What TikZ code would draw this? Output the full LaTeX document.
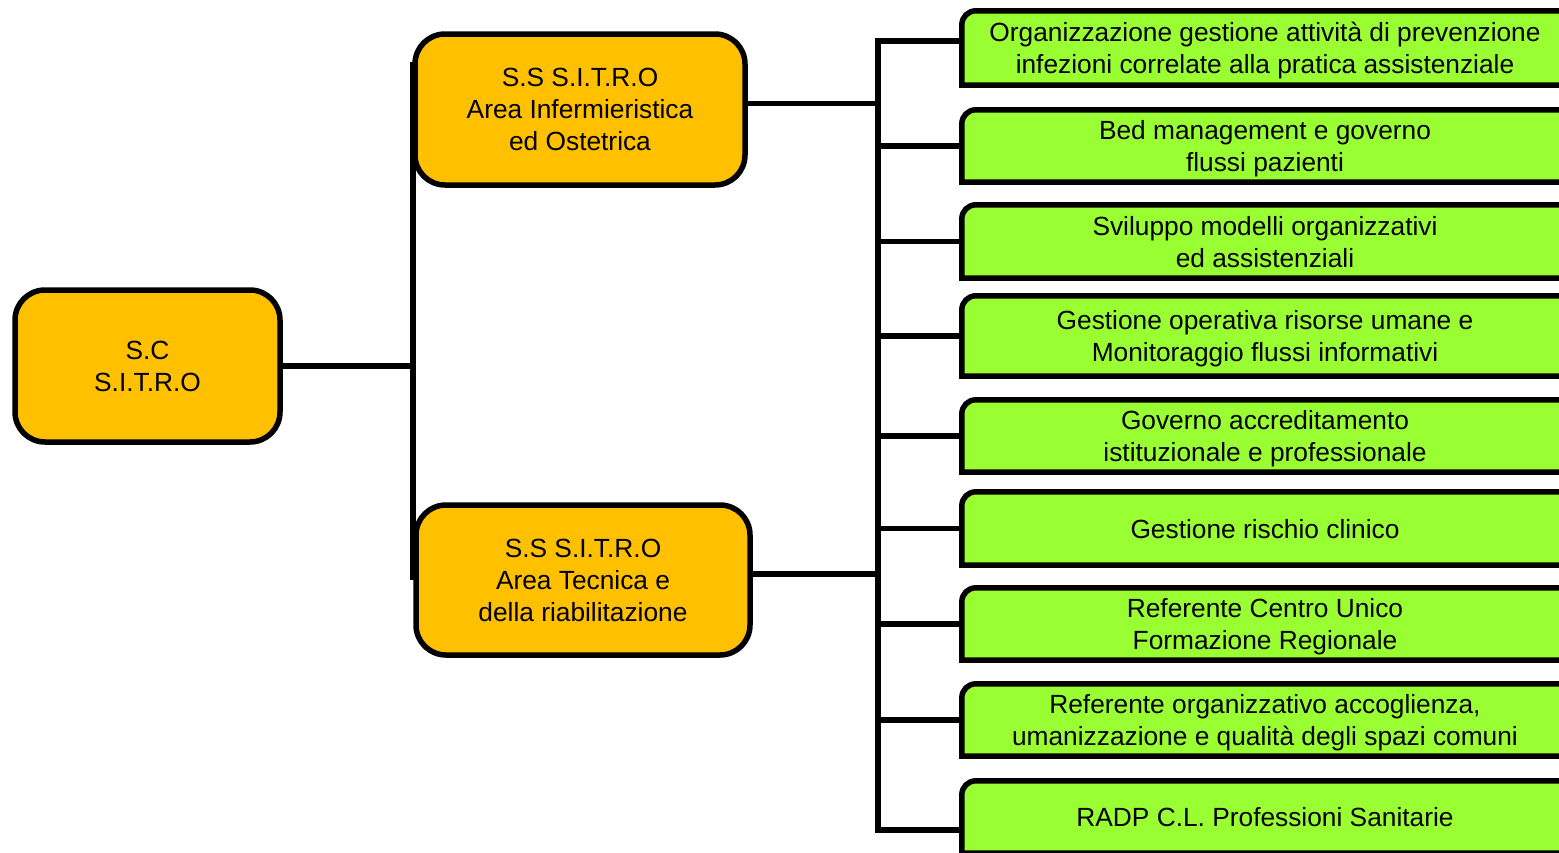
\documentclass[tikz,border=0pt]{standalone}
\usepackage{fontspec}
\setmainfont{Liberation Sans}
\usetikzlibrary{backgrounds}
\definecolor{unitorange}{HTML}{FFC000}
\definecolor{officegreen}{HTML}{99FF33}
\tikzset{
    branch/.style={draw=black, line width=5.5pt},
    unit/.style={draw=black, line width=5.5pt, fill=unitorange,
        rounded corners=30pt, align=center, inner sep=0pt, text depth=0pt},
    office/.style={align=center, inner sep=0pt, minimum width=606pt, text depth=0pt},
    officeframe/.style={draw=black, line width=5.5pt, fill=officegreen},
}

\begin{document}
\begin{tikzpicture}[x=1pt, y=-1pt, font={\fontsize{26.3}{32}\selectfont}]
    \useasboundingbox (0,0) rectangle (1559,852);
    \coordinate (t1) at (413,62);
    \coordinate (b1) at (413,580);
    \coordinate (t2) at (878,41);
    \coordinate (b2) at (878,830);
    \draw[branch] (t1) -- (b1);
    \node[unit, minimum width=265pt, minimum height=152pt] (sc) at (147.5,366) {S.C\\S.I.T.R.O};
    \node[unit, minimum width=330pt, minimum height=151pt] (ss1) at (580,109.5) {S.S S.I.T.R.O\\Area Infermieristica\\ed Ostetrica};
    \node[unit, minimum width=334pt, minimum height=150pt] (ss2) at (583,580) {S.S S.I.T.R.O\\Area Tecnica e\\della riabilitazione};
    \draw[branch] (sc.east) -- (sc.east -| t1);
    \draw[branch] ([yshift=6pt]ss1.east) -- ([yshift=6pt]ss1.east -| t2);
    \draw[branch] ([yshift=6pt]ss2.east) -- ([yshift=6pt]ss2.east -| t2);
    \node[office, minimum height=74pt] (o1) at (1265,48) {Organizzazione gestione attività di prevenzione\\infezioni correlate alla pratica assistenziale};
    \node[office, minimum height=72pt] (o2) at (1265,146) {Bed management e governo\\flussi pazienti};
    \node[office, minimum height=73pt] (o3) at (1265,241.5) {Sviluppo modelli organizzativi\\ed assistenziali};
    \node[office, minimum height=80pt] (o4) at (1265,336) {Gestione operativa risorse umane e\\Monitoraggio flussi informativi};
    \node[office, minimum height=72pt] (o5) at (1265,436) {Governo accreditamento\\istituzionale e professionale};
    \node[office, minimum height=73pt] (o6) at (1265,528.5) {Gestione rischio clinico};
    \node[office, minimum height=72pt] (o7) at (1265,624) {Referente Centro Unico\\Formazione Regionale};
    \node[office, minimum height=72pt] (o8) at (1265,720) {Referente organizzativo accoglienza,\\umanizzazione e qualità degli spazi comuni};
    \node[office, minimum height=72pt] (o9) at (1265,817) {RADP C.L. Professioni Sanitarie};
    \begin{pgfonlayer}{background}
        \foreach \n in {1,...,9}
            \draw[officeframe] (o\n.south west) -- ([yshift=-14pt]o\n.north west)
                arc[start angle=180, end angle=90, radius=14pt]
                -- (o\n.north east) -- (o\n.south east) -- cycle;
    \end{pgfonlayer}
    \draw[branch] (t2 -| o1.west) -- (t2) -- (b2) -- (b2 -| o9.west);
    \foreach \n in {2,...,8}
        \draw[branch] (o\n.west) -- (o\n.west -| t2);
\end{tikzpicture}
\end{document}
